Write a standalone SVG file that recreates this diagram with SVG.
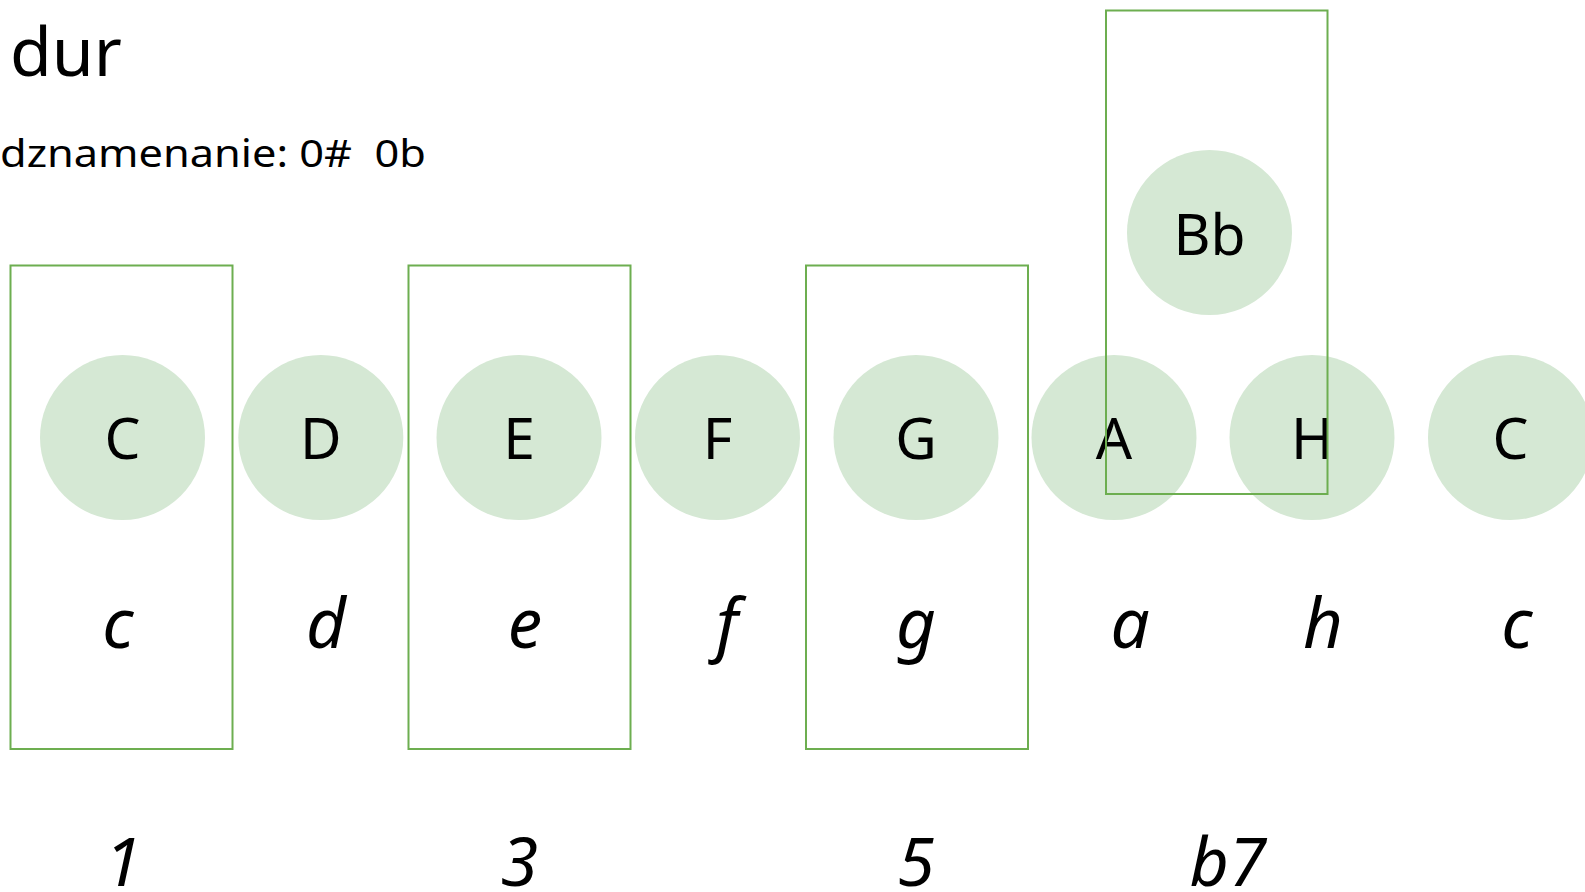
<svg xmlns="http://www.w3.org/2000/svg" width="1585" height="892" viewBox="0 0 1585 892">
<style>
.note{fill:#d5e8d4;stroke:none}
.box{fill:none;stroke:#6dae50;stroke-width:2}
.t{font-family:"Noto Sans","Open Sans",sans-serif;fill:#000}
.up{font-size:57px;text-anchor:middle}
.lo{font-size:69px;font-style:italic;text-anchor:middle}
.num{font-size:68px;font-style:italic;text-anchor:middle}
</style>
<rect width="1585" height="892" fill="#fff"/>
<g id="title"><text class="t" x="10" y="76" font-size="68">dur</text></g>
<g id="signature"><text class="t" x="0" y="167" font-size="38" xml:space="preserve" textLength="426" lengthAdjust="spacingAndGlyphs">dznamenanie: 0#  0b</text></g>
<g id="notes">
<g id="n-C"><circle class="note" cx="122.5" cy="437.5" r="82.5"/><text class="t up" x="122.5" y="459">C</text></g>
<g id="n-D"><circle class="note" cx="320.8" cy="437.5" r="82.5"/><text class="t up" x="320.8" y="459">D</text></g>
<g id="n-E"><circle class="note" cx="519" cy="437.5" r="82.5"/><text class="t up" x="519" y="459">E</text></g>
<g id="n-F"><circle class="note" cx="717.5" cy="437.5" r="82.5"/><text class="t up" x="717.5" y="459">F</text></g>
<g id="n-G"><circle class="note" cx="916" cy="437.5" r="82.5"/><text class="t up" x="916" y="459">G</text></g>
<g id="n-A"><circle class="note" cx="1114" cy="437.5" r="82.5"/><text class="t up" x="1114" y="459">A</text></g>
<g id="n-H"><circle class="note" cx="1312" cy="437.5" r="82.5"/><text class="t up" x="1312" y="459">H</text></g>
<g id="n-C2"><circle class="note" cx="1510.5" cy="437.5" r="82.5"/><text class="t up" x="1510.5" y="459">C</text></g>
<g id="n-Bb"><circle class="note" cx="1209.5" cy="232.5" r="82.5"/><text class="t up" x="1209.5" y="255">Bb</text></g>
</g>
<g id="lower">
<text class="t lo" x="118" y="648">c</text>
<text class="t lo" x="326" y="648">d</text>
<text class="t lo" x="525" y="648">e</text>
<text class="t lo" x="727" y="648">f</text>
<text class="t lo" x="916" y="648">g</text>
<text class="t lo" x="1130" y="648">a</text>
<text class="t lo" x="1323" y="648">h</text>
<text class="t lo" x="1517" y="648">c</text>
</g>
<g id="boxes">
<rect id="box-1" class="box" x="10.5" y="265.5" width="222" height="483.5"/>
<rect id="box-3" class="box" x="408.5" y="265.5" width="222" height="483.5"/>
<rect id="box-5" class="box" x="806" y="265.5" width="222" height="483.5"/>
<rect id="box-b7" class="box" x="1106" y="10.5" width="221.5" height="483.5"/>
</g>
<g id="degrees">
<text class="t num" x="123" y="886">1</text>
<text class="t num" x="519.5" y="886">3</text>
<text class="t num" x="916" y="886">5</text>
<text class="t num" x="1228" y="886">b7</text>
</g>
</svg>
